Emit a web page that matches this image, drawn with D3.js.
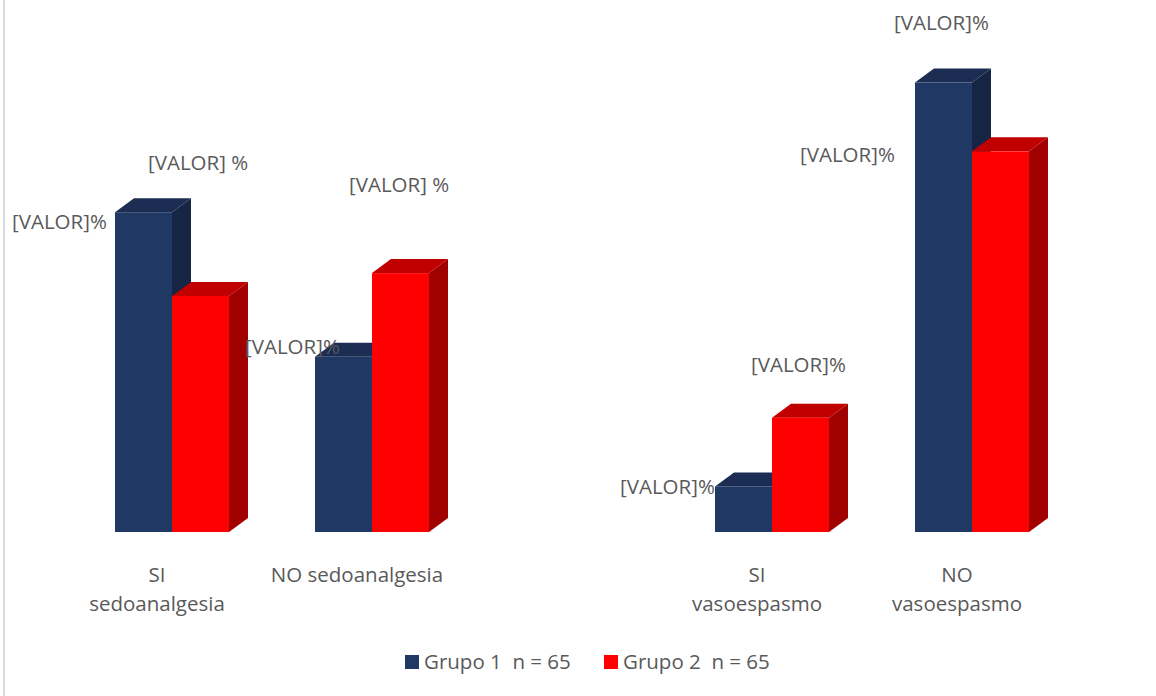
<!DOCTYPE html>
<html>
<head>
<meta charset="utf-8">
<script src="https://cdn.jsdelivr.net/npm/d3@7"></script>
<style>
  body { margin: 0; background: #fff; }
  svg text { font-family: "Open Sans", sans-serif; fill: #595959; }
</style>
</head>
<body>
<div id="chart"></div>
<script>
// categories (the empty one is the gap between the two blocks)
var categories = ["SI sedoanalgesia", "NO sedoanalgesia", "", "SI vasoespasmo", "NO vasoespasmo"];
var catLines = [["SI", "sedoanalgesia"], ["NO sedoanalgesia"], [], ["SI", "vasoespasmo"], ["NO", "vasoespasmo"]];
var groups = ["Grupo 1  n = 65", "Grupo 2  n = 65"];
var grupo1 = [64.6, 35.4, null, 9.2, 90.8];
var grupo2 = [47.7, 52.3, null, 23.1, 76.9];
var labels1 = ["[VALOR]%", "[VALOR]%", "", "[VALOR]%", "[VALOR]%"];
var labels2 = ["[VALOR] %", "[VALOR] %", "", "[VALOR]%", "[VALOR]%"];
// hand placed label offsets (from front top-left corner of the bar)
var labelOff1 = [[-103, 17], [-70, -3], null, [-95, 8], [-21, -53]];
var labelOff2 = [[-24, -126], [-23, -81], null, [-21, -46], [-172, 11]];

var W = 1156, H = 696;
var depthX = 19, depthY = 14;
var fs = 20.5;
var colors = {
    front: ["#203864", "#ff0000"],
    top: ["#1b2d52", "#c00000"],
    side: ["#172544", "#a00000"]
};

var svg = d3.select("#chart").append("svg")
    .attr("width", W)
    .attr("height", H);

svg.append("line")
    .attr("x1", 4).attr("x2", 4)
    .attr("y1", 0).attr("y2", H)
    .attr("stroke", "#d9d9d9").attr("stroke-width", 2);

var x0 = d3.scaleBand().domain(categories).range([72, 1072]).padding(0);
var x1 = d3.scaleBand().domain(groups).range([43, 157]).padding(0);
var y = d3.scaleLinear().domain([0, 100]).range([532, 37]);

var series = [grupo1, grupo2];
var seriesLabels = [labels1, labels2];
var seriesOff = [labelOff1, labelOff2];

series.forEach(function(vals, gi) {
    var data = vals.map(function(v, i) { return {cat: categories[i], v: v, i: i}; })
        .filter(function(d) { return d.v != null; });
    var g = svg.append("g").attr("class", "series" + gi);
    var bars = g.selectAll("g.bar").data(data).enter().append("g").attr("class", "bar");

    bars.each(function(d) {
        var b = d3.select(this);
        var xl = x0(d.cat) + x1(groups[gi]);
        var xr = xl + x1.bandwidth();
        var yt = y(d.v), yb = y(0);
        // side face
        b.append("path")
            .attr("d", "M" + xr + "," + yt + "L" + (xr + depthX) + "," + (yt - depthY) +
                "L" + (xr + depthX) + "," + (yb - depthY) + "L" + xr + "," + yb + "Z")
            .attr("fill", colors.side[gi]);
        // top face
        b.append("path")
            .attr("d", "M" + xl + "," + yt + "L" + (xl + depthX) + "," + (yt - depthY) +
                "L" + (xr + depthX) + "," + (yt - depthY) + "L" + xr + "," + yt + "Z")
            .attr("fill", colors.top[gi]);
        // front face
        b.append("rect")
            .attr("x", xl).attr("y", yt)
            .attr("width", xr - xl).attr("height", yb - yt)
            .attr("fill", colors.front[gi]);
    });
});

// data labels on top so they can overlap bars
series.forEach(function(vals, gi) {
    vals.forEach(function(v, i) {
        if (v == null) return;
        var off = seriesOff[gi][i];
        var xl = x0(categories[i]) + x1(groups[gi]);
        svg.append("text")
            .attr("x", xl + off[0])
            .attr("y", y(v) + off[1])
            .attr("font-size", fs)
            .text(seriesLabels[gi][i]);
    });
});

// category labels
catLines.forEach(function(lines, i) {
    var cx = x0(categories[i]) + x0.bandwidth() / 2 - 15;
    var t = svg.append("text")
        .attr("text-anchor", "middle")
        .attr("font-size", fs);
    lines.forEach(function(l, k) {
        t.append("tspan").attr("x", cx).attr("y", 582 + k * 29).text(l);
    });
});

// legend
var legend = svg.append("g").attr("transform", "translate(405,655)");
var legX = [0, 199];
groups.forEach(function(name, gi) {
    var lg = legend.append("g").attr("transform", "translate(" + legX[gi] + ",0)");
    lg.append("rect").attr("width", 14).attr("height", 14).attr("fill", colors.front[gi]);
    lg.append("text").attr("x", 19).attr("y", 14).attr("font-size", fs)
        .attr("xml:space", "preserve")
        .style("white-space", "pre")
        .text(name);
});
</script>
</body>
</html>
